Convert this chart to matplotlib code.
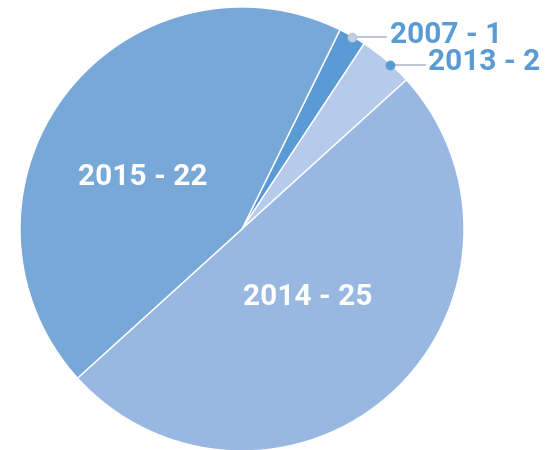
import numpy as np
import matplotlib
matplotlib.use("Agg")
import matplotlib.pyplot as plt

plt.rcParams['font.family'] = ['Roboto', 'DejaVu Sans']

years = ['2007', '2013', '2014', '2015']
counts = [1, 2, 25, 22]
colors = ['#5b9bd5', '#b6cbea', '#98b8e1', '#78a8d8']
dot_colors = ['#c2cde0', '#5b9bd5']
label_color = '#5b9bd5'

fig = plt.figure(figsize=(5.48, 4.5), dpi=100)
# pie centre at (242, 229) px, radius 222 px
ax = fig.add_axes([20 / 548, -1 / 450, 444 / 548, 444 / 450])
wedges, _ = ax.pie(counts, colors=colors, startangle=63.8, counterclock=False,
                   radius=1, wedgeprops=dict(edgecolor='white', linewidth=1))
ax.set_xlim(-1, 1)
ax.set_ylim(-1, 1)
ax.set_aspect('equal')
ax.axis('off')

labels = [f'{y} - {c}' for y, c in zip(years, counts)]

# inside labels for the big slices
inside_pos = {'2014': (0.295, -0.306), '2015': (-0.446, 0.236)}
for lab, y in zip(labels, years):
    if y in inside_pos:
        x0, y0 = inside_pos[y]
        ax.text(x0, y0, lab, color='white', fontsize=21.5, fontweight='bold',
                ha='center', va='center')

# outside labels with connectors for small slices
for i, y in enumerate(years[:2]):
    w = wedges[i]
    mid = np.deg2rad((w.theta1 + w.theta2) / 2 - 1.5 * i)
    px, py = np.cos(mid) * 0.995, np.sin(mid) * 0.995
    ax.plot([px, px + 0.155], [py, py], color='#b0bccf', lw=1.2, clip_on=False)
    ax.plot(px, py, 'o', color=dot_colors[i], ms=6, clip_on=False)
    ax.text(px + 0.172, py + 0.012, labels[i], color=label_color, fontsize=21.5,
            fontweight='bold', ha='left', va='center', clip_on=False)

fig.savefig('out.png', dpi=100)
